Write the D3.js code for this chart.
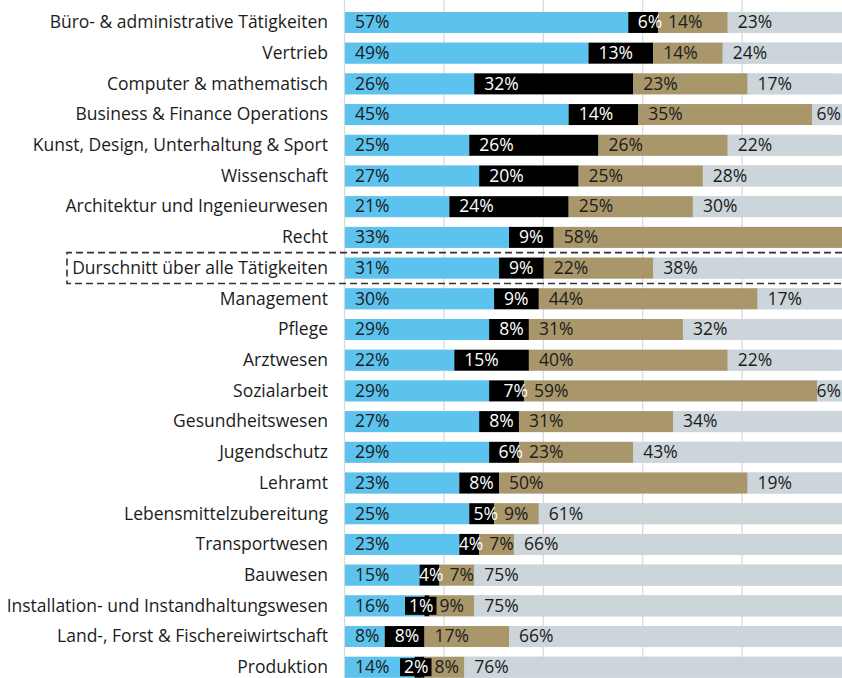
<!DOCTYPE html>
<html>
<head>
<meta charset="utf-8">
<script src="https://cdn.jsdelivr.net/npm/d3@7"></script>
<style>
  body { margin: 0; background: #fff; }
  svg { display: block; font-family: 'Open Sans', sans-serif; }
</style>
</head>
<body>
<div class="chart"></div>
<script>
// Categories, top to bottom
const categories = [
    'Büro- & administrative Tätigkeiten',
    'Vertrieb',
    'Computer & mathematisch',
    'Business & Finance Operations',
    'Kunst, Design, Unterhaltung & Sport',
    'Wissenschaft',
    'Architektur und Ingenieurwesen',
    'Recht',
    'Durschnitt über alle Tätigkeiten',
    'Management',
    'Pflege',
    'Arztwesen',
    'Sozialarbeit',
    'Gesundheitswesen',
    'Jugendschutz',
    'Lehramt',
    'Lebensmittelzubereitung',
    'Transportwesen',
    'Bauwesen',
    'Installation- und Instandhaltungswesen',
    'Land-, Forst & Fischereiwirtschaft',
    'Produktion',
]

// Series values (%), one per category
const seriesBlue = [57, 49, 26, 45, 25, 27, 21, 33, 31, 30, 29, 22, 29, 27, 29, 23, 25, 23, 15, 16, 8, 14]
const seriesBlack = [6, 13, 32, 14, 26, 20, 24, 9, 9, 9, 8, 15, 7, 8, 6, 8, 5, 4, 4, 1, 8, 2]
const seriesTan = [14, 14, 23, 35, 26, 25, 25, 58, 22, 44, 31, 40, 59, 31, 23, 50, 9, 7, 7, 9, 17, 8]
const seriesGray = [23, 24, 17, 6, 22, 28, 30, 0, 38, 17, 32, 22, 6, 34, 43, 19, 61, 66, 75, 75, 66, 76]

const averageLabel = 'Durschnitt über alle Tätigkeiten'
const gridTicks = [0, 20, 40, 60, 80]

/* Configuration */
const width = 842
const height = 678
const left = 345
const fontSize = 17.5
const colors = ['#5bc3ee', '#000000', '#a9976b', '#ccd5da']
const textColors = ['#1c1c1c', '#ffffff', '#1c1c1c', '#1c1c1c']

const series = [seriesBlue, seriesBlack, seriesTan, seriesGray]

const rows = categories.map((name, i) => {
    let acc = 0
    const segs = series.map((s, k) => {
        const seg = { k, value: s[i], x0: acc, x1: acc + s[i] }
        acc += s[i]
        return seg
    })
    return { name, segs }
})

const x = d3.scaleLinear().domain([0, 100]).range([left, width])
const y = d3.scaleBand()
    .domain(categories)
    .range([7.1, 682.6])
    .paddingInner(0.317)
    .paddingOuter(0.1585)

const svg = d3.select('.chart')
    .append('svg')
    .attr('width', width)
    .attr('height', height)
    .attr('viewBox', [0, 0, width, height])

// Gridlines behind the bars
svg.append('g')
    .attr('stroke', '#d3d9dc')
    .attr('stroke-width', 1.2)
    .selectAll('line')
    .data(gridTicks)
    .join('line')
    .attr('x1', d => x(d) - 0.5)
    .attr('x2', d => x(d) - 0.5)
    .attr('y1', 0)
    .attr('y2', height)

// Bars
const row = svg.append('g')
    .selectAll('g')
    .data(rows)
    .join('g')
    .attr('transform', d => `translate(0, ${y(d.name)})`)

// gray track, so rounded rows still reach the right edge
row.append('rect')
    .attr('x', x(0))
    .attr('width', x(100) - x(0))
    .attr('height', y.bandwidth())
    .attr('fill', colors[3])

row.selectAll('rect.seg')
    .data(d => d.segs.filter(s => s.value > 0))
    .join('rect')
    .attr('class', 'seg')
    .attr('x', s => x(s.x0))
    .attr('width', s => Math.min(x(s.x1), width) - x(s.x0))
    .attr('height', y.bandwidth())
    .attr('fill', s => colors[s.k])

// Category labels
svg.append('g')
    .attr('text-anchor', 'end')
    .attr('font-size', fontSize)
    .attr('fill', '#1c1c1c')
    .selectAll('text')
    .data(categories)
    .join('text')
    .attr('x', left - 17)
    .attr('y', d => y(d) + y.bandwidth() / 2)
    .attr('dy', '0.33em')
    .text(d => d)

// Value labels, placed one by one so narrow segments can be nudged
const pad = 10
row.each(function (d) {
    const g = d3.select(this)
    d.segs.forEach(s => {
        if (s.value <= 0) return
        const t = g.append('text')
            .attr('font-size', fontSize)
            .attr('fill', textColors[s.k])
            .attr('y', y.bandwidth() / 2)
            .attr('dy', '0.33em')
            .text(`${s.value}%`)
        const tw = t.node().getComputedTextLength()
        const segW = x(s.x1) - x(s.x0)
        let tx = x(s.x0) + pad
        if (s.k === 1 && segW < tw + pad + 2) {
            tx = x(s.x1) + 4 - tw
            if (segW < 15) {
                g.insert('rect', 'text')
                    .attr('x', tx - 4)
                    .attr('y', 1.5)
                    .attr('width', tw + 7)
                    .attr('height', y.bandwidth() - 3)
                    .attr('fill', '#000')
            }
        }
        if (s.k === 3) tx = Math.min(tx, width - tw - 1)
        t.attr('x', tx)
    })
})

// Dashed box around the average row
const yb = y(averageLabel)
const boxLeft = 67
svg.append('path')
    .attr('fill', 'none')
    .attr('stroke', '#333')
    .attr('stroke-width', 1.6)
    .attr('stroke-dasharray', '7,4')
    .attr('d', `M${width},${yb - 5}H${boxLeft}V${yb + y.bandwidth() + 5}H${width}`)
</script>
</body>
</html>
